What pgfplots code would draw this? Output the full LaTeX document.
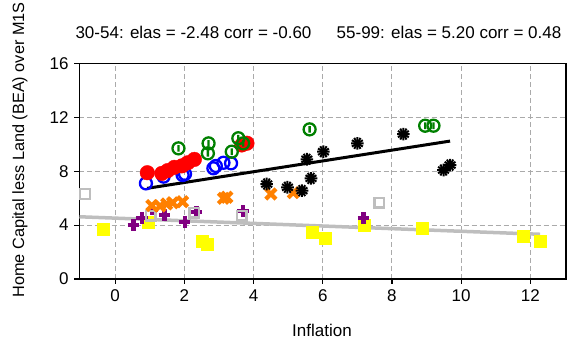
\documentclass[border=0pt]{standalone}
\usepackage{pgfplots}
\pgfplotsset{compat=1.18}
\usepackage{fontspec}
\setmainfont{Liberation Sans}
\definecolor{sgreen}{RGB}{0,128,0}
\definecolor{sorange}{RGB}{255,128,0}
\definecolor{spurple}{RGB}{128,0,128}
\definecolor{syellow}{RGB}{255,255,0}
\definecolor{sgray}{RGB}{190,190,190}
\definecolor{sgrid}{RGB}{170,170,170}
\pgfdeclareplotmark{thetav}{%
  \pgfpathcircle{\pgfpoint{0pt}{0pt}}{\pgfplotmarksize}%
  \pgfpathmoveto{\pgfqpoint{0pt}{-0.55\pgfplotmarksize}}%
  \pgfpathlineto{\pgfqpoint{0pt}{0.55\pgfplotmarksize}}%
  \pgfusepathqstroke}
\begin{document}
\fontsize{17}{20}\selectfont
\begin{tikzpicture}
\begin{axis}[
  at={(0,0)}, anchor=south west,
  scale only axis, width=486.5pt, height=215.5pt,
  xmin=-1.03, xmax=13.03, ymin=0, ymax=16,
  xtick={0,2,4,6,8,10,12}, ytick={0,4,8,12,16},
  tick align=outside, major tick length=5pt,
  xtick pos=bottom, ytick pos=left,
  axis line style={line width=1.5pt},
  every tick/.style={black, line width=1.2pt},
  grid=major,
  major grid style={sgrid, dash pattern=on 5pt off 3pt, line width=1pt},
  tick label style={font=\fontsize{17}{20}\selectfont},
  /pgf/number format/assume math mode=true,
  clip=false,
]
% yellow squares
\addplot[only marks, mark=square*, mark size=6pt, syellow, mark options={draw=syellow, fill=syellow}] coordinates {
(-0.34,3.71) (0.96,4.21) (2.53,2.84) (2.67,2.60) (5.70,3.44) (6.07,3.02) (7.20,4.01) (8.88,3.76) (11.80,3.19) (12.28,2.77)};
% purple plus
\addplot[only marks, mark=+, mark size=5.8pt, spurple, mark options={line width=4.3pt}] coordinates {
(0.53,4.02) (0.77,4.55) (1.08,5.15) (1.43,4.75) (2.01,4.25) (2.35,5.00) (3.70,5.05) (7.18,4.51)};
% gray open squares
\addplot[only marks, mark=square, mark size=4.8pt, sgray, mark options={line width=2.4pt}] coordinates {
(-0.87,6.31) (1.03,4.70) (2.29,4.92) (3.66,4.70) (7.63,5.66)};
% orange x
\addplot[only marks, mark=x, mark size=7.2pt, sorange, mark options={line width=4.2pt}] coordinates {
(1.06,5.45) (1.30,5.42) (1.49,5.57) (1.66,5.66) (1.95,5.74) (3.13,5.99) (3.23,6.07) (4.50,6.31) (5.15,6.41)};
% black asterisks (two rotated layers to form a burst)
\addplot[only marks, mark=asterisk, mark size=6.3pt, black, mark options={line width=2pt}] coordinates {
(4.38,7.05) (4.98,6.81) (5.40,6.56) (5.54,8.89) (5.66,7.47) (6.02,9.45) (7.00,10.07) (8.33,10.76) (9.49,8.09) (9.68,8.46)};
\addplot[only marks, mark=asterisk, mark size=6.3pt, black, mark options={line width=2pt, rotate=30}] coordinates {
(4.38,7.05) (4.98,6.81) (5.40,6.56) (5.54,8.89) (5.66,7.47) (6.02,9.45) (7.00,10.07) (8.33,10.76) (9.49,8.09) (9.68,8.46)};
% blue open circles
\addplot[only marks, mark=o, mark size=6pt, blue, mark options={line width=2.3pt}] coordinates {
(0.89,7.10) (1.40,7.60) (1.95,7.72) (2.02,7.80) (2.84,8.22) (2.91,8.39) (3.13,8.63) (3.35,8.59)};
% red filled circles
\addplot[only marks, mark=*, mark size=7.3pt, red, mark options={draw=red, fill=red}] coordinates {
(0.93,7.89) (1.35,7.84) (1.52,8.05) (1.71,8.29) (1.93,8.40) (2.10,8.63) (2.29,8.88) (3.66,9.95) (3.81,10.08)};
% green theta circles
\addplot[only marks, mark=thetav, mark size=6pt, sgreen, mark options={line width=2.3pt}] coordinates {
(1.83,9.70) (2.70,10.07) (2.68,9.33) (3.37,9.45) (3.56,10.45) (3.70,10.07) (5.62,11.11) (8.96,11.38) (9.20,11.38)};
% fit lines
\addplot[black, line width=3pt] coordinates {(0.92,6.73) (9.68,10.24)};
\addplot[sgray, line width=3.5pt] coordinates {(-1.03,4.62) (12.28,3.32)};
\end{axis}
\node at (114pt,247pt) {30-54: elas = -2.48 corr = -0.60};
\node at (369.5pt,247pt) {55-99: elas = 5.20 corr = 0.48};
\node[rotate=90, font=\fontsize{16.3}{19}\selectfont] at (-59.5pt,129pt) {Home Capital less Land (BEA) over M1S};
\node at (242.5pt,-51.7pt) {Inflation};
\pgfresetboundingbox
\path[use as bounding box] (-79.5pt,-60pt) rectangle (496.5pt,279pt);
\end{tikzpicture}
\end{document}
